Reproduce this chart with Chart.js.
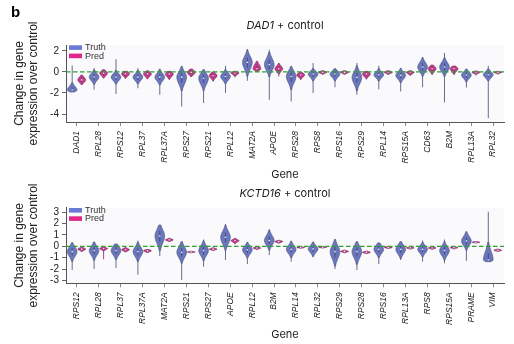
<!DOCTYPE html>
<html>
<head>
<meta charset="utf-8">
<script src="https://cdn.jsdelivr.net/npm/chart.js@4.4.0/dist/chart.umd.min.js"></script>
<style>
  body { margin: 0; background: #fff; }
  #wrap { position: relative; width: 514px; height: 344px; }
  canvas { position: absolute; left: 0; }
  #top { top: 0; }
  #bottom { top: 182px; }
</style>
</head>
<body>
<div id="wrap">
  <canvas id="top" width="514" height="182"></canvas>
  <canvas id="bottom" width="514" height="162"></canvas>
</div>
<script>
// ---- DAD1 + control ----
const dadGenes = ['DAD1', 'RPL28', 'RPS12', 'RPL37', 'RPL37A', 'RPS27', 'RPS21', 'RPL12', 'MAT2A', 'APOE',
                  'RPS28', 'RPS8', 'RPS16', 'RPS29', 'RPL14', 'RPS15A', 'CD63', 'B2M', 'RPL13A', 'RPL32'];
const dadTruthMin = [-1.9, -1.7, -2.1, -1.55, -2.17, -3.28, -2.96, -2.0, -0.84, -2.65, -2.8, -2.0, -1.45, -2.17, -1.64, -1.86, -1.45, -2.9, -1.48, -4.4];
const dadTruthQ1  = [-1.84, -0.75, -0.75, -0.75, -0.78, -1.0, -1.05, -0.7, 0.4, 0.25, -0.9, -0.45, -0.45, -1.0, -0.5, -0.6, 0.12, 0.12, -0.55, -0.5];
const dadTruthMed = [-1.72, -0.48, -0.5, -0.5, -0.5, -0.5, -0.6, -0.43, 0.9, 0.69, -0.43, -0.2, -0.2, -0.52, -0.27, -0.33, 0.46, 0.46, -0.3, -0.27];
const dadTruthQ3  = [-1.45, -0.22, -0.25, -0.25, -0.22, -0.1, -0.25, -0.18, 1.35, 1.15, -0.05, 0.0, 0.02, -0.1, -0.05, -0.08, 0.8, 0.8, -0.07, -0.05];
const dadTruthMax = [0.6, 0.37, 1.23, 0.37, 0.3, 0.52, 0.2, 0.59, 2.18, 2.1, 0.52, 0.85, 0.3, 0.85, 0.59, 0.36, 1.42, 1.8, 0.27, 0.59];
const dadPredMin  = [-1.2, -0.6, -0.6, -0.68, -0.7, -0.43, -0.9, -0.5, 0.05, -0.43, -0.76, -0.25, -0.25, -0.7, -0.3, -0.4, -0.3, -0.3, -0.35, -0.25];
const dadPredQ1   = [-0.95, -0.3, -0.35, -0.38, -0.4, -0.22, -0.55, -0.22, 0.15, 0.1, -0.45, -0.12, -0.12, -0.38, -0.12, -0.15, 0.1, 0.1, -0.12, -0.1];
const dadPredMed  = [-0.76, -0.12, -0.18, -0.2, -0.2, -0.05, -0.36, -0.1, 0.3, 0.3, -0.3, -0.05, -0.05, -0.2, -0.05, -0.05, 0.3, 0.3, -0.05, -0.05];
const dadPredQ3   = [-0.55, 0.05, -0.02, -0.05, -0.05, 0.12, -0.18, 0.0, 0.6, 0.5, -0.15, 0.03, 0.03, -0.05, 0.03, 0.03, 0.48, 0.45, 0.02, 0.0];
const dadPredMax  = [-0.3, 0.2, 0.05, 0.1, 0.05, 0.27, 0.0, 0.05, 1.0, 0.85, -0.05, 0.1, 0.1, 0.05, 0.1, 0.1, 0.65, 0.55, 0.08, 0.06];
const dadTicks = [-4, -2, 0, 2];

// ---- KCTD16 + control ----
const kctGenes = ['RPS12', 'RPL28', 'RPL37', 'RPL37A', 'MAT2A', 'RPS21', 'RPS27', 'APOE', 'RPL12', 'B2M',
                  'RPL14', 'RPL32', 'RPS29', 'RPS28', 'RPS16', 'RPL13A', 'RPS8', 'RPS15A', 'PRAME', 'VIM'];
const kctTruthMin = [-2.08, -2.0, -1.9, -2.5, -0.85, -2.96, -1.79, -1.2, -1.55, -0.76, -1.35, -0.97, -2.0, -2.08, -1.55, -1.2, -1.35, -1.49, -1.26, -1.35];
const kctTruthQ1  = [-0.8, -0.7, -0.68, -0.8, 0.4, -0.9, -0.72, 0.35, -0.58, 0.18, -0.55, -0.48, -0.95, -0.9, -0.55, -0.58, -0.52, -0.7, 0.15, -1.3];
const kctTruthMed = [-0.47, -0.38, -0.38, -0.47, 0.9, -0.53, -0.38, 0.79, -0.3, 0.5, -0.27, -0.23, -0.47, -0.47, -0.27, -0.27, -0.27, -0.38, 0.46, -1.2];
const kctTruthQ3  = [-0.15, -0.08, -0.08, -0.15, 1.35, -0.15, -0.05, 1.2, -0.05, 0.85, 0.0, 0.0, -0.05, -0.1, 0.0, 0.02, -0.03, -0.08, 0.78, -0.6];
const kctTruthMax = [0.32, 0.38, 0.2, 0.5, 1.87, 0.4, 0.6, 1.96, 0.35, 1.49, 0.48, 0.4, 0.6, 0.4, 0.3, 0.4, 0.5, 0.6, 1.28, 3.04];
const kctPredMin  = [-0.45, -1.14, -0.5, -0.55, 0.42, -0.58, -0.38, 0.18, -0.3, 0.28, -0.18, -0.15, -0.58, -0.63, -0.2, -0.25, -0.3, -0.25, 0.28, -0.48];
const kctPredQ1   = [-0.33, -0.28, -0.38, -0.46, 0.5, -0.53, -0.3, 0.4, -0.2, 0.36, -0.13, -0.11, -0.5, -0.58, -0.14, -0.18, -0.19, -0.16, 0.33, -0.39];
const kctPredMed  = [-0.25, -0.2, -0.3, -0.4, 0.56, -0.5, -0.25, 0.5, -0.15, 0.42, -0.1, -0.08, -0.45, -0.53, -0.1, -0.14, -0.15, -0.12, 0.36, -0.35];
const kctPredQ3   = [-0.17, -0.13, -0.22, -0.33, 0.62, -0.47, -0.2, 0.58, -0.1, 0.47, -0.07, -0.05, -0.4, -0.48, -0.06, -0.1, -0.1, -0.08, 0.39, -0.3];
const kctPredMax  = [-0.1, -0.08, -0.12, -0.28, 0.7, -0.43, -0.12, 0.7, -0.03, 0.52, -0.03, -0.02, -0.33, -0.43, -0.02, -0.05, -0.05, -0.03, 0.42, -0.25];
const kctTicks = [-3, -2, -1, 0, 1, 2, 3];

const seriesNames = ['Truth', 'Pred'];

const AXIS_FONT = 'Liberation Sans, Arial, sans-serif';
const TITLE_FONT = 'Inter, Roboto, sans-serif';
const TRUTH = { fill: '#6a76c0', edge: '#4e5378', tail: '#676b8e', key: '#6a79d4' };
const PRED  = { fill: '#c8388a', edge: '#7d3a68', tail: '#9a4a7e', key: '#e0288c' };

function statsOf(min, q1, med, q3, max) {
  return min.map((_, i) => ({ min: min[i], q1: q1[i], med: med[i], q3: q3[i], max: max[i] }));
}

// kernel-shaped outline around the median, spread taken from the quartiles
function drawViolin(ctx, x, yScale, st, hwMax, col) {
  const n = 80, pts = [];
  for (let k = 0; k <= n; k++) {
    const v = st.min + (st.max - st.min) * k / n;
    const s = Math.max(1e-3, (v < st.med ? st.med - st.q1 : st.q3 - st.med) * 1.25);
    const hw = hwMax * Math.exp(-0.5 * ((v - st.med) / s) ** 2);
    if (hw >= 0.5) pts.push([yScale.getPixelForValue(v), hw]);
  }
  if (pts.length < 2) return;
  ctx.beginPath();
  pts.forEach(([y, hw], k) => k ? ctx.lineTo(x - hw, y) : ctx.moveTo(x - hw, y));
  for (let k = pts.length - 1; k >= 0; k--) ctx.lineTo(x + pts[k][1], pts[k][0]);
  ctx.closePath();
  ctx.fillStyle = col.fill;
  ctx.fill();
  ctx.lineWidth = 0.7;
  ctx.strokeStyle = col.edge;
  ctx.stroke();
  // inner quartile line + median dot
  ctx.beginPath();
  ctx.moveTo(x, yScale.getPixelForValue(st.q1));
  ctx.lineTo(x, yScale.getPixelForValue(st.q3));
  ctx.lineWidth = 0.7;
  ctx.strokeStyle = '#3b3b48';
  ctx.stroke();
  ctx.beginPath();
  ctx.arc(x, yScale.getPixelForValue(st.med), 0.8, 0, Math.PI * 2);
  ctx.fillStyle = '#f4f4f4';
  ctx.fill();
}

const violinPlugin = {
  id: 'violins',
  beforeDraw(chart) {
    const { ctx, chartArea: a } = chart;
    ctx.save();
    ctx.fillStyle = '#fafafc';
    ctx.fillRect(a.left, a.top, a.right - a.left, a.bottom - a.top);
    ctx.restore();
  },
  afterDatasetsDraw(chart, args, opts) {
    const { ctx, chartArea: a, scales: { x, y } } = chart;
    const cw = x.getPixelForTick(1) - x.getPixelForTick(0);
    ctx.save();
    [TRUTH, PRED].forEach((col, d) => {
      const meta = chart.getDatasetMeta(d);
      const hw = cw * (d === 0 ? 0.22 : 0.18);
      opts.stats[d].forEach((st, i) => drawViolin(ctx, meta.data[i].x, y, st, hw, col));
    });
    // zero reference line
    const y0 = y.getPixelForValue(0);
    ctx.beginPath();
    ctx.setLineDash([4.5, 2.5]);
    ctx.moveTo(a.left, y0);
    ctx.lineTo(a.right, y0);
    ctx.lineWidth = 1.2;
    ctx.strokeStyle = '#2f9e34';
    ctx.stroke();
    ctx.restore();
  }
};

const panelTextPlugin = {
  id: 'panelText',
  afterDraw(chart, args, opts) {
    const { ctx, chartArea: a } = chart;
    ctx.save();
    // title: italic gene name + " + control"
    const gene = opts.gene, rest = ' + control';
    ctx.textBaseline = 'middle';
    ctx.fillStyle = '#1a1a1a';
    ctx.font = 'italic 11px ' + TITLE_FONT;
    const w1 = ctx.measureText(gene).width;
    ctx.font = '11px ' + TITLE_FONT;
    const w2 = ctx.measureText(rest).width;
    let tx = (a.left + a.right) / 2 - (w1 + w2) / 2;
    ctx.font = 'italic 11px ' + TITLE_FONT;
    ctx.textAlign = 'left';
    ctx.fillText(gene, tx, opts.titleY);
    ctx.font = '11px ' + TITLE_FONT;
    ctx.fillText(rest, tx + w1, opts.titleY);
    // legend
    [TRUTH, PRED].forEach((col, d) => {
      const top = a.top + 0.3 + d * 8.3;
      ctx.fillStyle = col.key;
      ctx.fillRect(a.left + 3, top, 13, 4.6);
      ctx.fillStyle = '#333';
      ctx.font = '9px ' + AXIS_FONT;
      ctx.fillText(seriesNames[d], a.left + 19, top + 2.6);
    });
    if (opts.letter) {
      ctx.font = 'bold 15px ' + AXIS_FONT;
      ctx.fillStyle = '#000';
      ctx.textBaseline = 'alphabetic';
      ctx.fillText(opts.letter, 11, 16.5);
    }
    ctx.restore();
  }
};

function makePanel(id, genes, truthStats, predStats, yMin, yMax, ticks, cfg) {
  const tail = (stats) => stats.map(s => [s.min, s.max]);
  return new Chart(document.getElementById(id), {
    type: 'bar',
    data: {
      labels: genes,
      datasets: [
        { label: seriesNames[0], data: tail(truthStats), backgroundColor: TRUTH.tail },
        { label: seriesNames[1], data: tail(predStats), backgroundColor: PRED.tail }
      ]
    },
    options: {
      responsive: false,
      animation: false,
      devicePixelRatio: 1,
      categoryPercentage: 0.87,
      barPercentage: 1,
      maxBarThickness: 1,
      layout: { padding: { top: cfg.padTop, right: 10, left: 0, bottom: 0 } },
      plugins: {
        legend: { display: false },
        tooltip: { enabled: false },
        violins: { stats: [truthStats, predStats] },
        panelText: { gene: cfg.gene, titleY: cfg.titleY, letter: cfg.letter }
      },
      scales: {
        x: {
          afterFit: s => { s.height = cfg.xHeight; },
          grid: { display: true, offset: false, drawOnChartArea: false, tickLength: 4, color: '#8a8a8a' },
          border: { display: true, color: '#555', width: 1 },
          ticks: {
            autoSkip: false, minRotation: 90, maxRotation: 90, padding: 5,
            color: '#222', font: { family: AXIS_FONT, size: 8.5, style: 'italic' }
          },
          title: {
            display: true, text: 'Gene', color: '#222',
            font: { family: TITLE_FONT, size: 11 },
            padding: { top: 0, bottom: cfg.geneGap }
          }
        },
        y: {
          min: yMin, max: yMax,
          afterFit: s => { s.width = 66; },
          afterBuildTicks: s => { s.ticks = ticks.map(v => ({ value: v })); },
          grid: { display: true, drawOnChartArea: false, tickLength: 4, color: '#666' },
          border: { display: true, color: '#555', width: 1 },
          ticks: { autoSkip: false, padding: 3, color: '#222', font: { family: AXIS_FONT, size: 10 } },
          title: {
            display: true, text: ['Change in gene', 'expression over control'], color: '#222',
            font: { family: AXIS_FONT, size: 12, lineHeight: 1.2 },
            padding: { top: 12, bottom: 0 }
          }
        }
      }
    },
    plugins: [violinPlugin, panelTextPlugin]
  });
}

makePanel('top', dadGenes,
  statsOf(dadTruthMin, dadTruthQ1, dadTruthMed, dadTruthQ3, dadTruthMax),
  statsOf(dadPredMin, dadPredQ1, dadPredMed, dadPredQ3, dadPredMax),
  -4.75, 2.55, dadTicks,
  { padTop: 45, xHeight: 60, geneGap: 1, gene: 'DAD1', titleY: 25.5, letter: 'b' });

makePanel('bottom', kctGenes,
  statsOf(kctTruthMin, kctTruthQ1, kctTruthMed, kctTruthQ3, kctTruthMax),
  statsOf(kctPredMin, kctPredQ1, kctPredMed, kctPredQ3, kctPredMax),
  -3.25, 3.39, kctTicks,
  { padTop: 25.7, xHeight: 60.7, geneGap: 2.4, gene: 'KCTD16', titleY: 11.5, letter: null });
</script>
</body>
</html>
